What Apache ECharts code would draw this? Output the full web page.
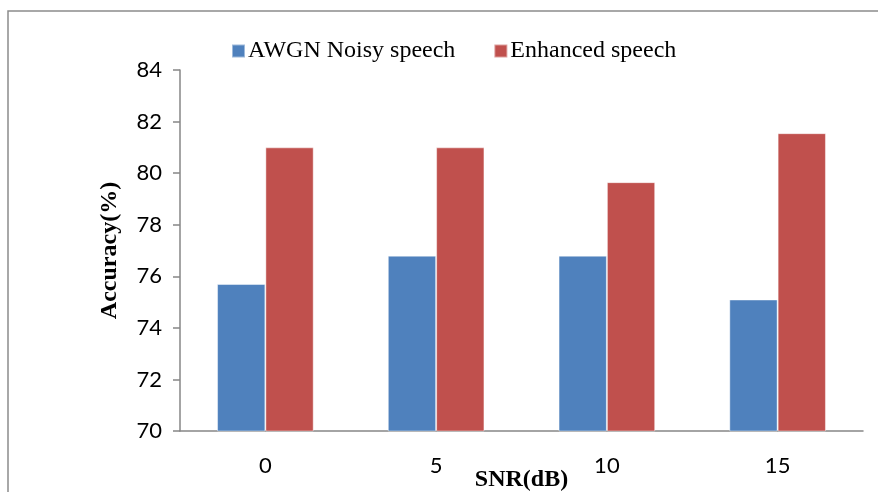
<!DOCTYPE html>
<html>
<head>
<meta charset="utf-8">
<script src="https://cdn.jsdelivr.net/npm/echarts@6/dist/echarts.min.js"></script>
<style>
  html, body { margin: 0; padding: 0; background: #fff; }
  #chart { width: 878px; height: 492px; }
</style>
</head>
<body>
<div id="chart"></div>
<script>
// SNR levels on the x axis
const snrLevels = ['0', '5', '10', '15'];
// Recognition accuracy (%) per SNR level
const noisyAccuracy = [75.7, 76.8, 76.8, 75.1];
const enhancedAccuracy = [81.0, 81.0, 79.65, 81.55];
// Value axis range
const yMin = 70, yMax = 84, yStep = 2;

const serif = '"Liberation Serif", "Times New Roman", serif';
const sans = 'Lato, "Open Sans", sans-serif';
const axisGray = '#868686';

const chart = echarts.init(document.getElementById('chart'), null, { renderer: 'canvas' });
chart.setOption({
  backgroundColor: '#fff',
  animation: false,
  graphic: [{
    type: 'rect',
    shape: { x: 8, y: 11, width: 900, height: 520 },
    style: { fill: 'none', stroke: '#8c8c8c', lineWidth: 1.5 },
    silent: true
  }],
  legend: {
    top: 34,
    left: 226,
    itemWidth: 13,
    itemHeight: 13,
    itemGap: 38,
    icon: 'rect',
    textStyle: { fontFamily: serif, fontSize: 24, color: '#000', padding: [0, 0, 0, -2] },
    data: ['AWGN Noisy speech', 'Enhanced speech']
  },
  grid: { left: 180, right: 15, top: 70, bottom: 61, containLabel: false, outerBoundsMode: 'none' },
  xAxis: {
    type: 'category',
    data: snrLevels,
    name: 'SNR(dB)',
    nameLocation: 'middle',
    nameGap: 37,
    nameMoveOverlap: false,
    nameTextStyle: { fontFamily: serif, fontSize: 24, fontWeight: 'bold', color: '#000' },
    axisLine: { lineStyle: { color: axisGray, width: 1.5 } },
    axisTick: { length: 8, lineStyle: { color: axisGray, width: 1.5 } },
    axisLabel: { fontFamily: sans, fontSize: 22, color: '#000', margin: 24 }
  },
  yAxis: {
    type: 'value',
    min: yMin,
    max: yMax,
    interval: yStep,
    name: 'Accuracy(%)',
    nameLocation: 'middle',
    nameGap: 58,
    nameMoveOverlap: false,
    nameTextStyle: { fontFamily: serif, fontSize: 24, fontWeight: 'bold', color: '#000' },
    splitLine: { show: false },
    axisLine: { show: true, lineStyle: { color: axisGray, width: 1.5 } },
    axisTick: { show: true, length: 7, lineStyle: { color: axisGray, width: 1.5 } },
    axisLabel: { fontFamily: sans, fontSize: 22, color: '#000', margin: 18 }
  },
  series: [
    {
      name: 'AWGN Noisy speech',
      type: 'bar',
      data: noisyAccuracy,
      barWidth: '28.3%',
      barGap: '0%',
      itemStyle: { color: '#4F81BD', borderColor: 'rgba(255,255,255,0.45)', borderWidth: 1 }
    },
    {
      name: 'Enhanced speech',
      type: 'bar',
      data: enhancedAccuracy,
      barWidth: '28.3%',
      barGap: '0%',
      itemStyle: { color: '#C0504D', borderColor: 'rgba(255,255,255,0.45)', borderWidth: 1 }
    }
  ]
});
</script>
</body>
</html>
